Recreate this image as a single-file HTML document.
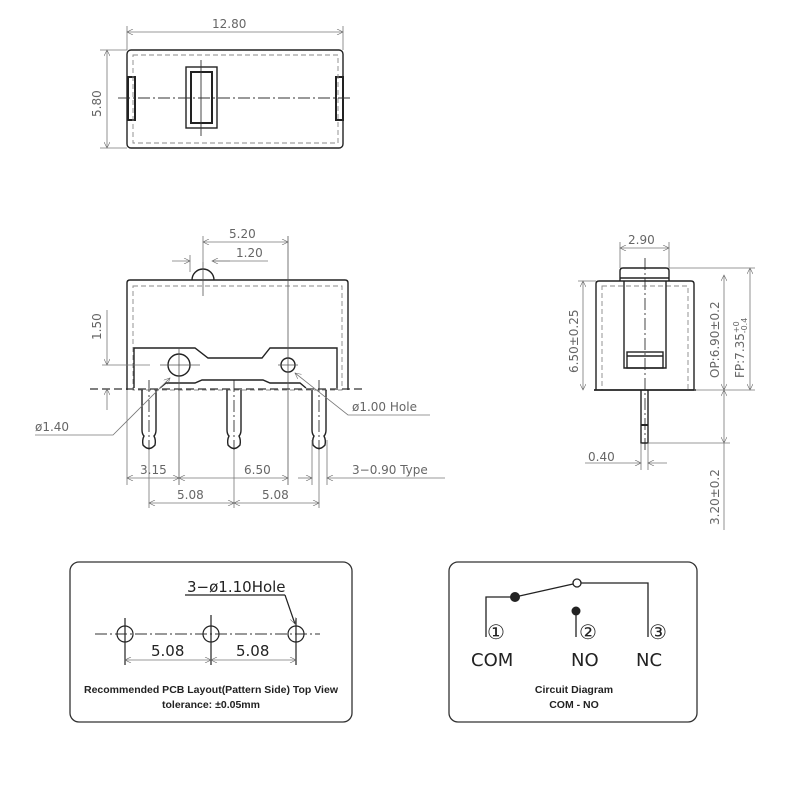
<!DOCTYPE html>
<html><head><meta charset="utf-8"><style>
body{margin:0;background:#fff}
svg{display:block}
.g{font-family:"DejaVu Sans","Liberation Sans",sans-serif;fill:#666;font-size:12px}
.b{font-family:"Liberation Sans",sans-serif;font-weight:bold;font-size:10.5px;fill:#222}
</style></head><body>
<svg width="800" height="800" viewBox="0 0 800 800" xmlns="http://www.w3.org/2000/svg">
<defs>
<marker id="a" viewBox="0 0 10 10" refX="10" refY="5" markerWidth="10" markerHeight="6" orient="auto-start-reverse" markerUnits="userSpaceOnUse"><path d="M0,0 L10,5 L0,10" fill="none" stroke="#666" stroke-width="1"/></marker>
</defs>
<g fill="none" stroke="#777" stroke-width="0.8">
<line x1="127" y1="32" x2="343" y2="32" marker-start="url(#a)" marker-end="url(#a)"/>
<line x1="127" y1="26" x2="127" y2="50"/><line x1="343" y1="26" x2="343" y2="50"/>
<line x1="107" y1="50" x2="107" y2="148" marker-start="url(#a)" marker-end="url(#a)"/>
<line x1="100" y1="50" x2="127" y2="50"/><line x1="100" y1="148" x2="127" y2="148"/>
</g>
<g fill="none" stroke="#222" stroke-width="1.4">
<rect x="127" y="50" width="216" height="98" rx="4"/>
<rect x="186" y="67" width="31" height="61"/>
<rect x="191" y="72" width="21" height="51" stroke-width="2"/>
<rect x="128" y="77" width="7" height="43" stroke-width="2"/>
<rect x="336" y="77" width="7" height="43" stroke-width="2"/>
</g>
<g fill="none" stroke="#888" stroke-width="0.9" stroke-dasharray="5,3">
<rect x="133" y="55" width="205" height="88"/>
<rect x="133" y="286" width="209" height="104"/>
<rect x="602" y="286" width="86" height="104"/>
</g>
<g fill="none" stroke="#333" stroke-width="0.9" stroke-dasharray="12,3,2,3">
<line x1="118" y1="98" x2="352" y2="98"/>
<line x1="201" y1="60" x2="201" y2="136" stroke-dasharray="none"/>
<line x1="90" y1="389" x2="365" y2="389" stroke-dasharray="8,4" stroke-width="1.2"/>
<line x1="149" y1="380" x2="149" y2="450"/>
<line x1="234" y1="380" x2="234" y2="450"/>
<line x1="319" y1="380" x2="319" y2="450"/>
<line x1="645" y1="258" x2="645" y2="450"/>
<line x1="95" y1="634" x2="320" y2="634"/>
</g>
<g fill="none" stroke="#222" stroke-width="1.4">
<path d="M192,280 A11,11 0 0 1 214,280"/>
<path d="M127,390 L127,283 Q127,280 130,280 L345,280 Q348,280 348,283 L348,390"/>
<path d="M134,388 L134,348 L195,348 L208,358 L262,358 L270,348 L337,348 L337,388"/>
<path d="M160,388 L166,383 L195,383 L202,380 L263,380 L270,383 L300,383 L306,388"/>
<circle cx="179" cy="365" r="11"/>
<circle cx="288" cy="365" r="7"/>
<path d="M142,390 L142,430 Q142,434 144,436 Q142,440 143,445 Q149,452 155,445 Q156,440 154,436 Q156,434 156,430 L156,390"/>
<path d="M227,390 L227,430 Q227,434 229,436 Q227,440 228,445 Q234,452 240,445 Q241,440 239,436 Q241,434 241,430 L241,390"/>
<path d="M312,390 L312,430 Q312,434 314,436 Q312,440 313,445 Q319,452 325,445 Q326,440 324,436 Q326,434 326,430 L326,390"/>
</g>
<g fill="none" stroke="#555" stroke-width="0.8">
<line x1="203" y1="262" x2="203" y2="296"/><line x1="160" y1="365" x2="200" y2="365"/><line x1="278" y1="365" x2="298" y2="365"/>
<line x1="179" y1="348" x2="179" y2="485"/><line x1="288" y1="236" x2="288" y2="485"/>
</g>
<g fill="none" stroke="#777" stroke-width="0.8">
<line x1="203" y1="242" x2="288" y2="242" marker-start="url(#a)" marker-end="url(#a)"/>
<line x1="203" y1="236" x2="203" y2="262"/>
<line x1="172" y1="261" x2="190" y2="261" marker-end="url(#a)"/>
<line x1="230" y1="261" x2="212" y2="261" marker-end="url(#a)"/><line x1="212" y1="261" x2="268" y2="261"/>
<line x1="190" y1="255" x2="190" y2="272"/>
<line x1="107" y1="310" x2="107" y2="365" marker-end="url(#a)"/>
<line x1="107" y1="410" x2="107" y2="389" marker-end="url(#a)"/>
<line x1="102" y1="365" x2="150" y2="365"/>
<line x1="127" y1="390" x2="127" y2="485"/>
<line x1="127" y1="478" x2="179" y2="478" marker-start="url(#a)" marker-end="url(#a)"/>
<line x1="179" y1="478" x2="288" y2="478" marker-start="url(#a)" marker-end="url(#a)"/>
<line x1="149" y1="450" x2="149" y2="508"/><line x1="234" y1="450" x2="234" y2="508"/><line x1="319" y1="450" x2="319" y2="508"/>
<line x1="149" y1="503" x2="234" y2="503" marker-start="url(#a)" marker-end="url(#a)"/>
<line x1="234" y1="503" x2="319" y2="503" marker-start="url(#a)" marker-end="url(#a)"/>
<line x1="312" y1="440" x2="312" y2="485"/><line x1="327" y1="440" x2="327" y2="485"/>
<line x1="298" y1="478" x2="312" y2="478" marker-end="url(#a)"/>
<line x1="345" y1="478" x2="327" y2="478" marker-end="url(#a)"/><line x1="345" y1="478" x2="445" y2="478"/>
<polyline points="35,435 113,435 170,378" marker-end="url(#a)"/>
<polyline points="430,415 348,415 295,373" marker-end="url(#a)"/>
</g>
<g class="g">
<text x="212" y="28">12.80</text>
<text x="229" y="238">5.20</text>
<text x="236" y="257">1.20</text>
<text x="140" y="474">3.15</text>
<text x="244" y="474">6.50</text>
<text x="177" y="499">5.08</text>
<text x="262" y="499">5.08</text>
<text x="352" y="474">3−0.90 Type</text>
<text x="35" y="431">ø1.40</text>
<text x="352" y="411">ø1.00 Hole</text>
<text transform="translate(101,117) rotate(-90)">5.80</text>
<text transform="translate(101,340) rotate(-90)">1.50</text>
<text x="628" y="244">2.90</text>
<text x="588" y="461">0.40</text>
<text transform="translate(578,373) rotate(-90)">6.50±0.25</text>
<text transform="translate(719,378) rotate(-90)">OP:6.90±0.2</text>
<text transform="translate(744,378) rotate(-90)">FP:7.35<tspan font-size="8" dy="-5">+0</tspan><tspan font-size="8" dx="-12" dy="8">-0.4</tspan></text>
<text transform="translate(719,525) rotate(-90)">3.20±0.2</text>
</g>
<g fill="none" stroke="#222" stroke-width="1.4">
<path d="M596,390 L596,284 Q596,281 599,281 L691,281 Q694,281 694,284 L694,390"/>
<line x1="594" y1="390" x2="696" y2="390" stroke-width="1.8"/>
<path d="M620,281 L620,271 Q620,268 623,268 L666,268 Q669,268 669,271 L669,281"/>
<line x1="620" y1="278" x2="669" y2="278"/>
<path d="M624,281 L624,368 L666,368 L666,281"/>
<rect x="627" y="352" width="36" height="16"/>
<line x1="627" y1="356" x2="663" y2="356"/>
<path d="M641,390 L641,443 L648,443 L648,390"/>
<line x1="641" y1="425" x2="648" y2="425" stroke-width="2"/>
</g>
<g fill="none" stroke="#777" stroke-width="0.8">
<line x1="620" y1="248" x2="669" y2="248" marker-start="url(#a)" marker-end="url(#a)"/>
<line x1="620" y1="242" x2="620" y2="268"/><line x1="669" y1="242" x2="669" y2="268"/>
<line x1="583" y1="281" x2="583" y2="390" marker-start="url(#a)" marker-end="url(#a)"/>
<line x1="578" y1="281" x2="596" y2="281"/>
<line x1="724" y1="275" x2="724" y2="390" marker-start="url(#a)" marker-end="url(#a)"/>
<line x1="750" y1="268" x2="750" y2="390" marker-start="url(#a)" marker-end="url(#a)"/>
<line x1="669" y1="268" x2="755" y2="268"/>
<line x1="694" y1="390" x2="755" y2="390"/>
<line x1="724" y1="390" x2="724" y2="443" marker-start="url(#a)" marker-end="url(#a)"/>
<line x1="724" y1="443" x2="724" y2="530"/>
<line x1="648" y1="443" x2="730" y2="443"/>
<line x1="641" y1="443" x2="641" y2="470"/><line x1="648" y1="443" x2="648" y2="470"/>
<line x1="585" y1="463" x2="641" y2="463" marker-end="url(#a)"/>
<line x1="667" y1="463" x2="648" y2="463" marker-end="url(#a)"/>
</g>
<rect x="70" y="562" width="282" height="160" rx="9" fill="none" stroke="#333" stroke-width="1.3"/>
<g fill="none" stroke="#222" stroke-width="1.2">
<circle cx="125" cy="634" r="8"/><circle cx="211" cy="634" r="8"/><circle cx="296" cy="634" r="8"/>
<line x1="125" y1="618" x2="125" y2="665"/><line x1="211" y1="615" x2="211" y2="665"/><line x1="296" y1="618" x2="296" y2="665"/>
<line x1="185" y1="595" x2="285" y2="595"/>
<line x1="285" y1="595" x2="295" y2="624" marker-end="url(#a)"/>
</g>
<g fill="none" stroke="#777" stroke-width="0.8">
<line x1="125" y1="660" x2="211" y2="660" marker-start="url(#a)" marker-end="url(#a)"/>
<line x1="211" y1="660" x2="296" y2="660" marker-start="url(#a)" marker-end="url(#a)"/>
</g>
<g font-family="DejaVu Sans,Liberation Sans,sans-serif" font-size="15" fill="#222">
<text x="187" y="592">3−ø1.10Hole</text>
<text x="151" y="656">5.08</text>
<text x="236" y="656">5.08</text>
</g>
<text class="b" x="211" y="693" text-anchor="middle">Recommended PCB Layout(Pattern Side) Top View</text>
<text class="b" x="211" y="708" text-anchor="middle">tolerance: ±0.05mm</text>
<rect x="449" y="562" width="248" height="160" rx="9" fill="none" stroke="#333" stroke-width="1.3"/>
<g fill="none" stroke="#222" stroke-width="1.3">
<polyline points="486,637 486,597 515,597 573,584"/>
<polyline points="581,583 648,583 648,637"/>
<circle cx="577" cy="583" r="4" fill="#fff"/>
<line x1="576" y1="612" x2="576" y2="637"/>
</g>
<circle cx="515" cy="597" r="5" fill="#222"/>
<circle cx="576" cy="611" r="4.5" fill="#222"/>
<g font-family="DejaVu Sans,Liberation Sans,sans-serif" font-size="20" fill="#222">
<text x="487" y="639">①</text><text x="579" y="639">②</text><text x="649" y="639">③</text>
<text x="471" y="666" font-size="18">COM</text>
<text x="571" y="666" font-size="18">NO</text>
<text x="636" y="666" font-size="18">NC</text>
</g>
<text class="b" x="574" y="693" text-anchor="middle">Circuit Diagram</text>
<text class="b" x="574" y="708" text-anchor="middle">COM - NO</text>
</svg>
</body></html>
